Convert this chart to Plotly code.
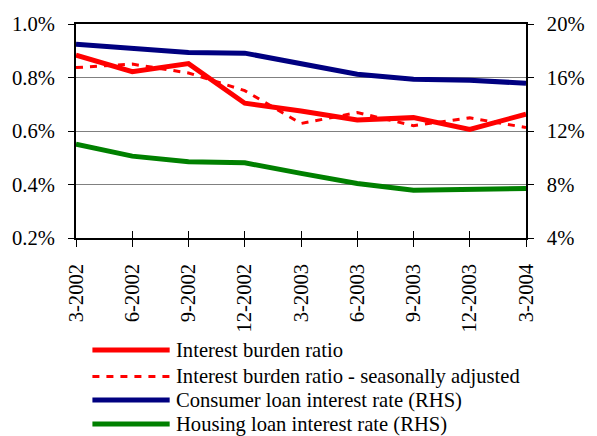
import plotly.graph_objects as go

# Quarterly observations
quarters = ["3-2002", "6-2002", "9-2002", "12-2002", "3-2003",
            "6-2003", "9-2003", "12-2003", "3-2004"]

# Interest burden ratio (% , left axis)
burden = [0.884, 0.822, 0.852, 0.704, 0.675, 0.641, 0.650, 0.606, 0.663]
burden_sa = [0.837, 0.850, 0.817, 0.751, 0.628, 0.669, 0.620, 0.649, 0.613]

# Loan interest rates (%, right axis)
consumer_rate = [18.49, 18.19, 17.87, 17.82, 17.05, 16.25, 15.87, 15.80, 15.57]
housing_rate = [11.02, 10.12, 9.70, 9.62, 8.83, 8.07, 7.57, 7.60, 7.70]

series_names = [
    "Interest burden ratio",
    "Interest burden ratio - seasonally adjusted",
    "Consumer loan interest rate (RHS)",
    "Housing loan interest rate (RHS)",
]

RED = "#FF0000"
NAVY = "#000080"
GREEN = "#008000"
FONT = "Liberation Serif, Times New Roman, serif"
FS = 20.6

W, H = 597, 436
L, R, T, B = 73, 58, 24, 198
pw, ph = W - L - R, H - T - B

fig = go.Figure()
fig.add_trace(go.Scatter(x=quarters, y=consumer_rate, yaxis="y2", mode="lines",
                         line=dict(color=NAVY, width=5), name=series_names[2]))
fig.add_trace(go.Scatter(x=quarters, y=housing_rate, yaxis="y2", mode="lines",
                         line=dict(color=GREEN, width=5), name=series_names[3]))
fig.add_trace(go.Scatter(x=quarters, y=burden_sa, mode="lines",
                         line=dict(color=RED, width=3, dash="7px,7px"),
                         name=series_names[1]))
fig.add_trace(go.Scatter(x=quarters, y=burden, mode="lines",
                         line=dict(color=RED, width=5), name=series_names[0]))

# Legend built from shapes and text, placed below the rotated date labels
def px_to_paper_x(px):
    return (px - L) / pw

def px_to_paper_y(py):
    return (H - B - py) / ph

legend_rows = [
    (350, RED, 5, "solid"),
    (376.5, RED, 3, "7px,7px"),
    (400, NAVY, 5, "solid"),
    (424, GREEN, 5, "solid"),
]
shapes = []
annotations = []
for (py, color, width, dash), label in zip(legend_rows, series_names):
    yp = px_to_paper_y(py)
    shapes.append(dict(type="line", xref="paper", yref="paper",
                       x0=px_to_paper_x(90), x1=px_to_paper_x(170), y0=yp, y1=yp,
                       line=dict(color=color, width=width, dash=dash)))
    annotations.append(dict(xref="paper", yref="paper", x=px_to_paper_x(174), y=yp,
                            xanchor="left", yanchor="middle", text=label,
                            showarrow=False, font=dict(family=FONT, size=FS, color="black")))

fig.update_layout(
    width=W, height=H,
    margin=dict(l=L, r=R, t=T, b=B, pad=0),
    paper_bgcolor="white", plot_bgcolor="white",
    font=dict(family=FONT, size=FS, color="black"),
    showlegend=False,
    xaxis=dict(
        type="category", range=[0, 8], tickmode="array",
        tickvals=quarters, ticktext=quarters, tickangle=-90,
        showline=True, linecolor="black", linewidth=1.5, mirror=True,
        ticks="outside", ticklen=7, tickcolor="black", tickwidth=1,
        ticklabelstandoff=9, showgrid=False, zeroline=False,
    ),
    xaxis2=dict(
        type="category", range=[0, 8], overlaying="x", side="bottom",
        anchor="y", tickmode="array", tickvals=quarters, showticklabels=False,
        ticks="inside", ticklen=7, tickcolor="black", tickwidth=1,
        showline=False, showgrid=False, zeroline=False,
    ),
    yaxis=dict(
        range=[0.2, 1.0], tickmode="array",
        tickvals=[0.2, 0.4, 0.6, 0.8, 1.0],
        ticktext=["0.2%", "0.4%", "0.6%", "0.8%", "1.0%"],
        showline=True, linecolor="black", linewidth=2,
        ticks="outside", ticklen=6, tickcolor="black",
        ticklabelstandoff=9,
        showgrid=True, gridcolor="#808080", gridwidth=1, zeroline=False,
    ),
    yaxis2=dict(
        range=[4, 20], tickmode="array", tickvals=[4, 8, 12, 16, 20],
        ticktext=["4%", "8%", "12%", "16%", "20%"],
        overlaying="y", side="right", anchor="x",
        showline=True, linecolor="black", linewidth=1.5,
        ticks="outside", ticklen=6, tickcolor="black",
        ticklabelstandoff=9,
        showgrid=False, zeroline=False,
    ),
    shapes=shapes,
    annotations=annotations,
)

# Invisible trace so the overlay category axis is drawn
fig.add_trace(go.Scatter(x=quarters, y=[None] * len(quarters), xaxis="x2",
                         mode="lines", hoverinfo="skip", showlegend=False))

fig.write_html("out.html")
